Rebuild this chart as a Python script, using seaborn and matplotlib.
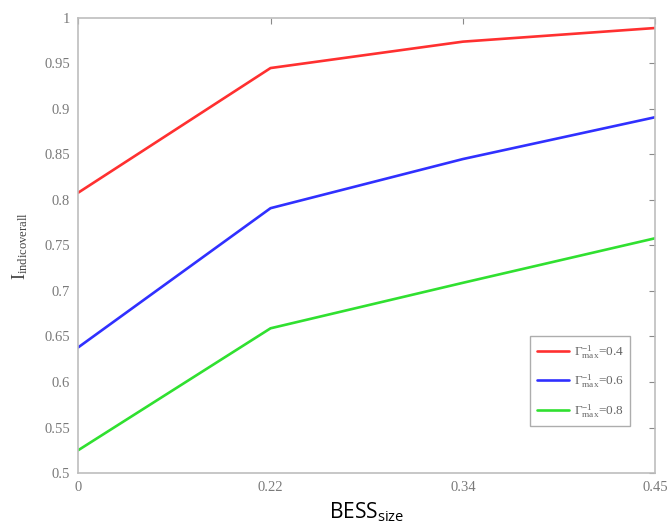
import matplotlib
matplotlib.use("Agg")
import matplotlib.pyplot as plt
import seaborn as sns
import pandas as pd
import numpy as np

bess_labels = ["0", "0.22", "0.34", "0.45"]
series_names = [r"$\Gamma^{-1}_{\rm max}$=0.4", r"$\Gamma^{-1}_{\rm max}$=0.6", r"$\Gamma^{-1}_{\rm max}$=0.8"]
vals_04 = [0.808, 0.945, 0.974, 0.989]
vals_06 = [0.638, 0.791, 0.845, 0.891]
vals_08 = [0.525, 0.659, 0.709, 0.758]
colors = ["#ff3030", "#3030ff", "#30e030"]

rows = []
for name, vals in zip(series_names, [vals_04, vals_06, vals_08]):
    for i, v in enumerate(vals):
        rows.append({"pos": i, "val": v, "series": name})
df = pd.DataFrame(rows)

sns.set_style("white")
plt.rcParams["font.family"] = ["Liberation Serif", "DejaVu Serif"]
plt.rcParams["mathtext.fontset"] = "custom"
plt.rcParams["mathtext.rm"] = "Liberation Serif"
plt.rcParams["mathtext.it"] = "Liberation Serif:italic"
plt.rcParams["mathtext.sf"] = "Open Sans"

fig = plt.figure(figsize=(6.68, 5.23), dpi=100)
ax = fig.add_axes([0.117, 0.0956, 0.864, 0.87])

sns.lineplot(data=df, x="pos", y="val", hue="series", palette=colors,
             linewidth=1.9, ax=ax, legend=True)

ax.set_xlim(0, len(bess_labels) - 1)
ax.set_ylim(0.5, 1.0)
ax.set_xticks(range(len(bess_labels)))
ax.set_xticklabels(bess_labels)
yt = np.arange(0.5, 1.0001, 0.05)
ax.set_yticks(yt)
ax.set_yticklabels([f"{t:.2f}".rstrip("0").rstrip(".") for t in yt])

grey = "#8a8a8a"
for s in ax.spines.values():
    s.set_color("#bdbdbd")
    s.set_linewidth(1.2)
ax.tick_params(direction="in", length=4, color=grey, labelcolor="#7a7a7a",
               labelsize=10.5, top=True, right=True, pad=6)

ax.set_xlabel(r"BESS$_{\mathsf{size}}$", family=["Open Sans", "DejaVu Sans"],
              fontsize=15, color="black", labelpad=4)
ax.set_ylabel(r"I$_{\mathrm{indicoverall}}$", fontsize=13, color="#444444", labelpad=10)

leg = ax.legend(loc="lower right", bbox_to_anchor=(0.957, 0.103), borderaxespad=0,
                frameon=True, fancybox=False, fontsize=9.5, handlelength=2.4,
                labelspacing=0.9, borderpad=0.5, handletextpad=0.4)
leg.get_frame().set_edgecolor("#999999")
leg.get_frame().set_linewidth(1.0)
for t in leg.get_texts():
    t.set_color("#666666")

fig.savefig("out.png", dpi=100)
